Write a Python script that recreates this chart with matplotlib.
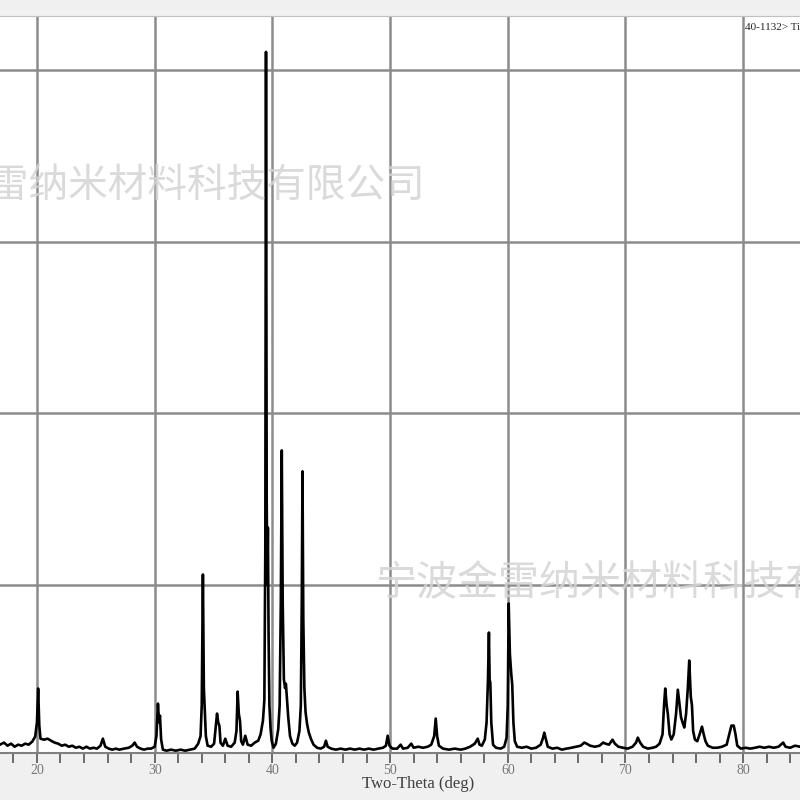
import matplotlib
matplotlib.use("Agg")
import matplotlib.pyplot as plt

# XRD trace: (2theta, intensity)
two_theta = [16.85, 17.2, 17.5, 17.8, 18.1, 18.4, 18.7, 19.0, 19.3, 19.6, 19.85, 20.0, 20.1, 20.2, 20.3,
             20.6, 20.9, 21.2, 21.5, 21.8, 22.1, 22.4, 22.7, 23.0, 23.3, 23.6, 23.9, 24.2, 24.5, 24.8,
             25.1, 25.4, 25.6, 25.8, 26.1, 26.4, 26.7, 27.0, 27.4, 27.8, 28.1, 28.3, 28.5, 28.8, 29.1,
             29.4, 29.7, 30.0, 30.15, 30.28, 30.38, 30.45, 30.55, 30.7, 31.0, 31.4, 31.8, 32.2, 32.6,
             33.0, 33.4, 33.7, 33.9, 34.0, 34.1, 34.18, 34.25, 34.35, 34.5, 34.8, 35.05, 35.2, 35.3,
             35.4, 35.5, 35.6, 35.8, 36.0, 36.2, 36.5, 36.8, 36.95, 37.05, 37.15, 37.25, 37.35, 37.5,
             37.7, 37.9, 38.2, 38.5, 38.8, 39.0, 39.2, 39.32, 39.4, 39.46, 39.52, 39.57, 39.62, 39.68,
             39.75, 39.85, 39.95, 40.1, 40.3, 40.5, 40.62, 40.72, 40.8, 40.88, 40.98, 41.08, 41.15,
             41.25, 41.35, 41.5, 41.7, 41.9, 42.1, 42.3, 42.42, 42.5, 42.56, 42.63, 42.72, 42.82, 42.95,
             43.1, 43.3, 43.5, 43.8, 44.1, 44.4, 44.55, 44.7, 45.0, 45.4, 45.8, 46.2, 46.6, 47.0, 47.4,
             47.8, 48.2, 48.6, 49.0, 49.4, 49.65, 49.8, 49.95, 50.2, 50.6, 50.9, 51.1, 51.5, 51.8, 52.0,
             52.4, 52.8, 53.2, 53.5, 53.75, 53.88, 54.0, 54.15, 54.5, 55.0, 55.5, 56.0, 56.4, 56.8, 57.2,
             57.45, 57.6, 57.8, 58.05, 58.2, 58.32, 58.4, 58.46, 58.52, 58.6, 58.75, 59.0, 59.4, 59.7,
             59.9, 60.0, 60.08, 60.18, 60.3, 60.38, 60.48, 60.6, 60.8, 61.2, 61.6, 62.0, 62.4, 62.8,
             63.0, 63.1, 63.25, 63.4, 63.8, 64.2, 64.6, 65.0, 65.4, 65.8, 66.2, 66.5, 66.7, 67.0, 67.4,
             67.8, 68.1, 68.3, 68.6, 68.9, 69.1, 69.4, 69.8, 70.2, 70.6, 70.9, 71.05, 71.25, 71.5, 71.9,
             72.3, 72.6, 72.9, 73.15, 73.28, 73.38, 73.5, 73.6, 73.75, 73.9, 74.1, 74.3, 74.45, 74.6,
             74.72, 74.85, 75.0, 75.15, 75.3, 75.42, 75.55, 75.65, 75.75, 75.9, 76.1, 76.3, 76.5, 76.65,
             76.8, 77.0, 77.4, 77.8, 78.2, 78.6, 78.85, 79.0, 79.2, 79.35, 79.5, 79.8, 80.2, 80.6, 81.0,
             81.4, 81.8, 82.2, 82.6, 83.0, 83.4, 83.6, 84.0, 84.4, 84.85]
intensity = [70, 82, 64, 76, 58, 70, 64, 76, 70, 88, 117, 200, 397, 180, 105,
             99, 105, 93, 82, 76, 64, 70, 58, 64, 52, 58, 47, 58, 47, 52,
             47, 64, 105, 58, 47, 41, 47, 41, 47, 52, 64, 82, 58, 47, 41,
             47, 47, 58, 120, 309, 200, 239, 100, 41, 35, 41, 35, 41, 35,
             41, 47, 76, 120, 300, 1061, 400, 286, 120, 64, 58, 76, 180, 251,
             200, 180, 80, 64, 105, 64, 58, 82, 150, 379, 250, 210, 90, 70,
             122, 70, 64, 82, 93, 130, 210, 330, 1200, 4105, 1500, 1000, 1335, 700,
             300, 160, 90, 52, 76, 160, 300, 900, 1784, 900, 450, 400, 425,
             330, 230, 120, 76, 64, 82, 150, 300, 900, 1662, 800, 400, 260, 190,
             140, 100, 70, 52, 47, 58, 93, 58, 47, 41, 47, 41, 47, 41, 47,
             41, 47, 41, 47, 52, 64, 122, 64, 47, 47, 70, 47, 52, 76, 52,
             58, 52, 58, 70, 120, 222, 120, 64, 47, 41, 47, 41, 47, 58, 76,
             105, 70, 64, 100, 200, 450, 723, 450, 430, 200, 70, 52, 47, 58,
             110, 300, 892, 600, 480, 420, 200, 90, 58, 52, 58, 47, 52, 70,
             110, 140, 100, 58, 47, 52, 41, 47, 52, 58, 64, 82, 76, 64, 58,
             64, 82, 76, 70, 99, 76, 58, 52, 47, 58, 82, 111, 82, 58, 47,
             52, 58, 76, 130, 300, 397, 300, 250, 130, 100, 130, 250, 390, 300,
             230, 200, 170, 250, 400, 560, 350, 300, 150, 100, 90, 130, 175, 130,
             90, 64, 52, 52, 58, 70, 140, 181, 181, 130, 64, 47, 52, 47, 52,
             58, 52, 58, 52, 58, 82, 58, 52, 64, 58]

x_ticks = [20, 30, 40, 50, 60, 70, 80]
y_grid = [1000, 2000, 3000, 4000]
watermark = "宁波金雷纳米材料科技有限公司"

fig = plt.figure(figsize=(8, 8), dpi=100, facecolor="#f0f0f0")
ax = fig.add_axes([0, 47 / 800, 1, 737 / 800])
ax.set_facecolor("white")

ax.plot(two_theta, intensity, color="black", lw=1.9, zorder=3)

ax.set_xlim(16.86, 84.83)
ax.set_ylim(21.5, 4314)
ax.set_xticks(x_ticks)
ax.set_xticks(range(18, 85, 2), minor=True)
ax.set_yticks(y_grid)
ax.tick_params(axis="y", left=False, labelleft=False)
ax.tick_params(axis="x", which="both", direction="out", length=7, width=1.2,
               color="#555555", labelsize=10, labelcolor="#777777", pad=1)
for lab in ax.get_xticklabels():
    lab.set_family("Liberation Serif")
ax.grid(True, which="major", color="#8c8c8c", lw=1.8, zorder=1)

for side in ["left", "right"]:
    ax.spines[side].set_visible(False)
ax.spines["bottom"].set_color("#808080")
ax.spines["bottom"].set_linewidth(1.5)
ax.spines["top"].set_color("#c0c0c0")

ax.set_xlabel("Two-Theta (deg)", family="Liberation Serif", fontsize=12,
              color="#404040")
ax.xaxis.set_label_coords(418 / 800, -23 / 737)

# watermarks
fig.text(425 / 800, 1 - 187 / 800, watermark, family="Noto Sans CJK SC", fontsize=28.5,
         color="#d4d4d4", alpha=0.85, ha="right", va="center", zorder=5)
fig.text(375 / 800, 1 - 584 / 800, watermark, family="Noto Sans CJK SC", fontsize=29.5,
         color="#d4d4d4", alpha=0.85, ha="left", va="center", zorder=5)

fig.text(745 / 800, 1 - 28 / 800, "40-1132> Ti", family="Liberation Serif", fontsize=8,
         color="#222222", ha="left", va="center")

plt.savefig("out.png", dpi=100, facecolor=fig.get_facecolor())
